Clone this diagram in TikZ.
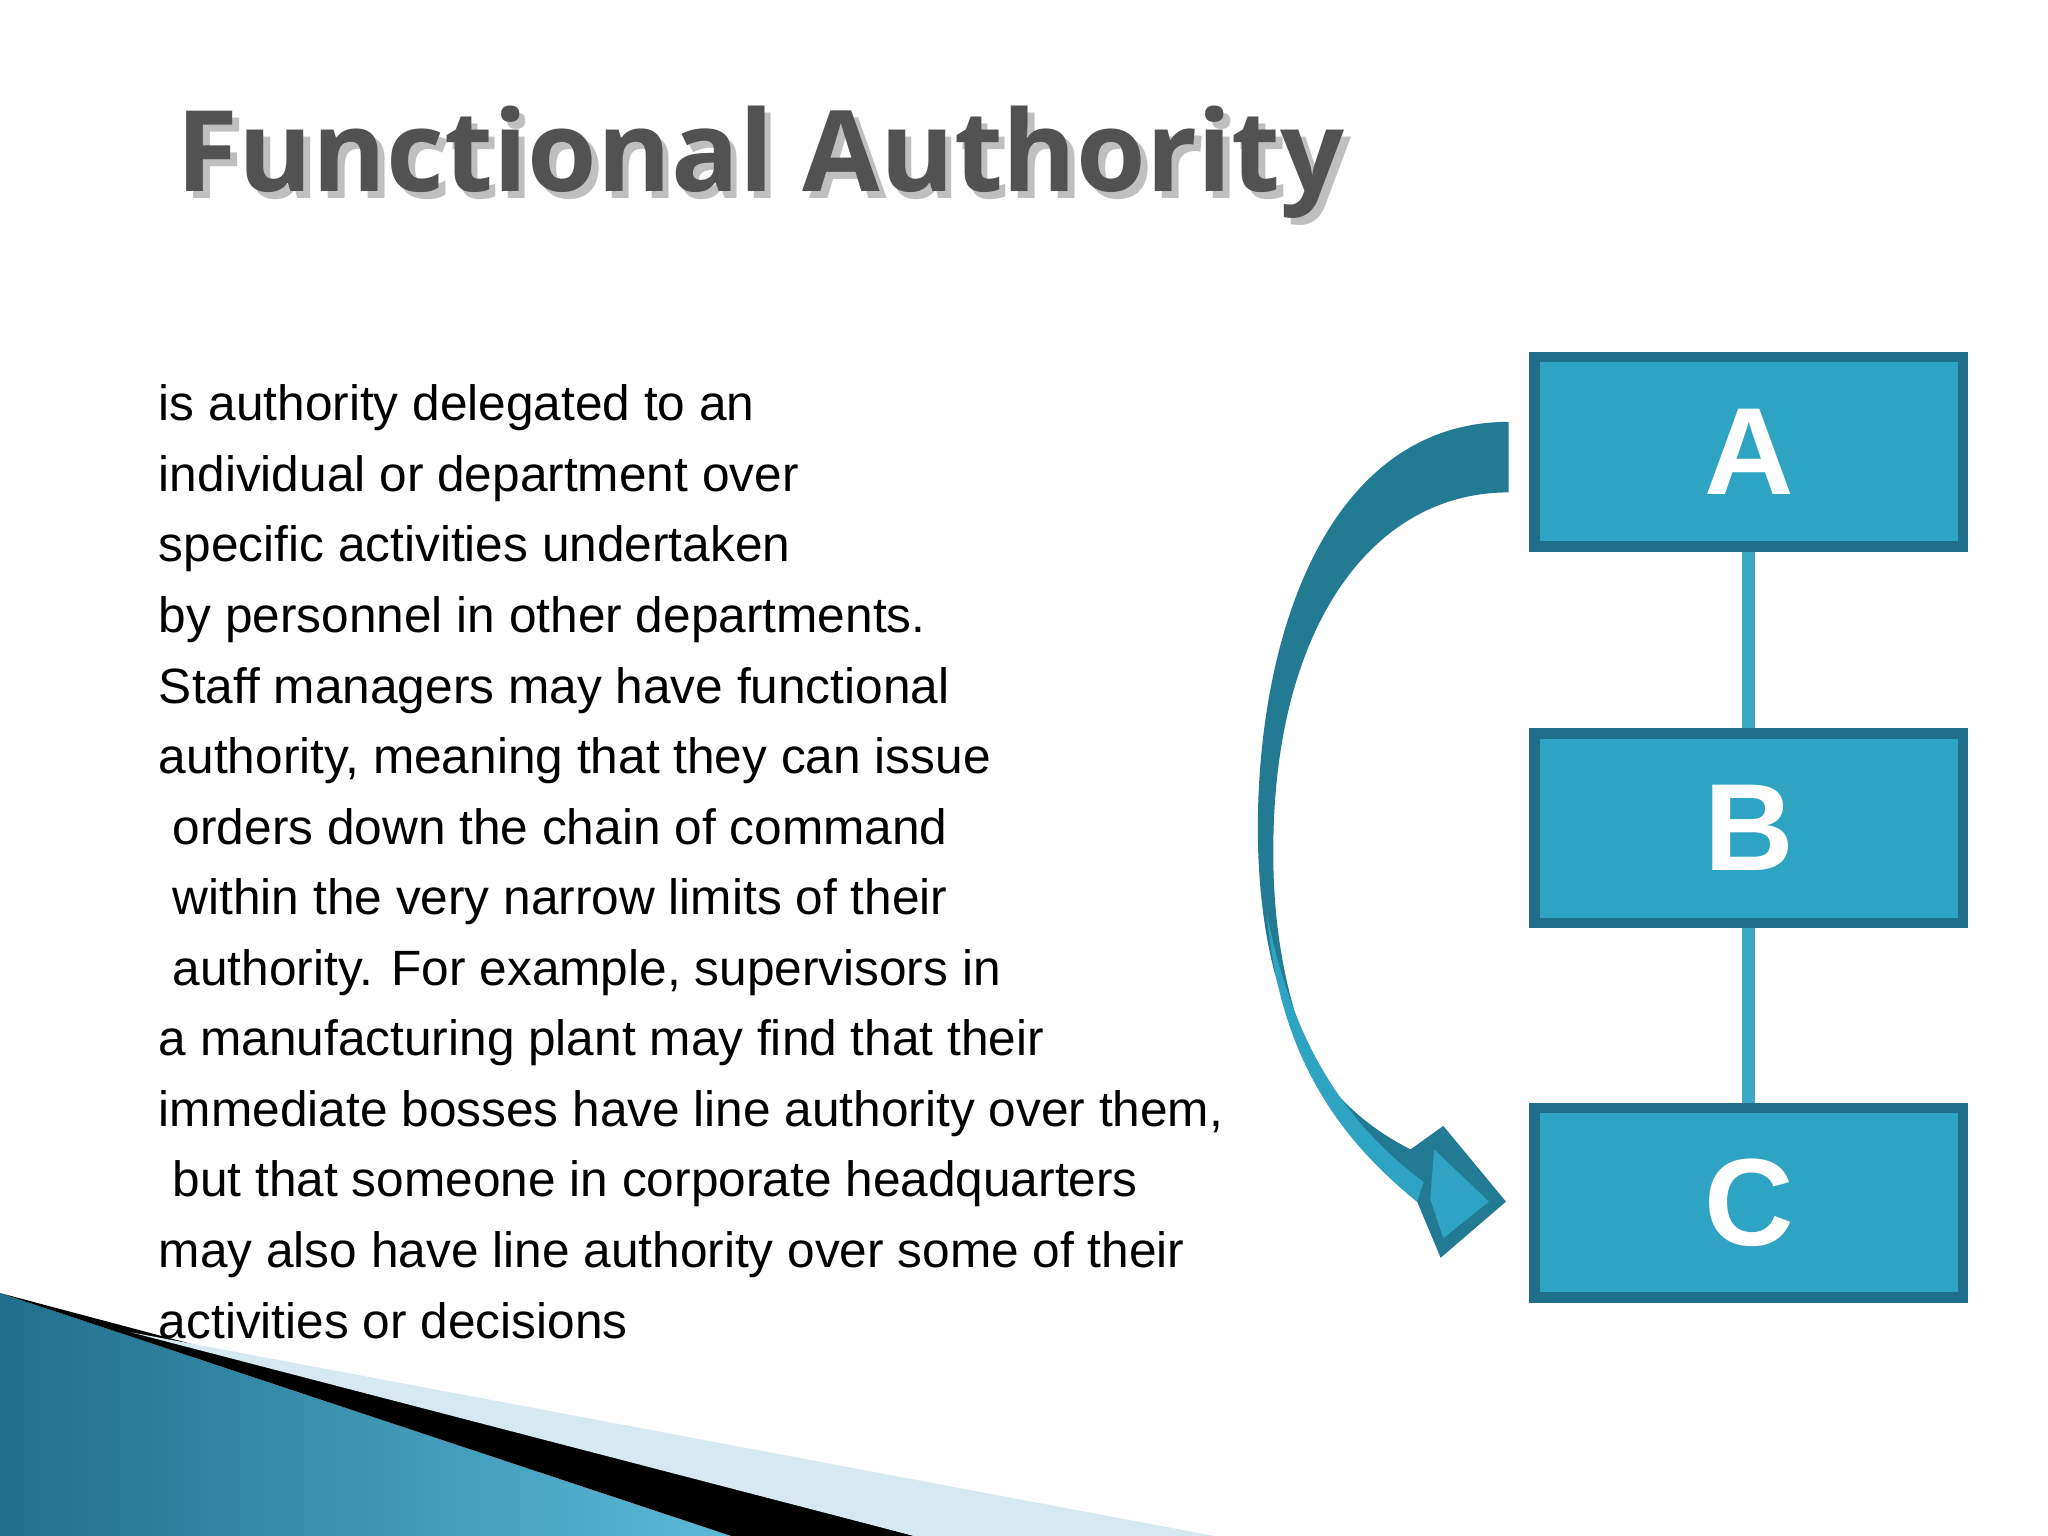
\documentclass[tikz,border=0pt]{standalone}
\usepackage{fontspec}
\setmainfont{Liberation Sans}
\newfontfamily\titlefont{Open Sans}
\definecolor{boxfill}{HTML}{2EA3C2}
\definecolor{boxline}{HTML}{1F6F8B}
\definecolor{linkc}{HTML}{3AA8C6}
\definecolor{arrowc}{HTML}{237A93}
\definecolor{decolight}{HTML}{5BBAD8}
\definecolor{stripe}{HTML}{D8E8F0}
\begin{document}
\begin{tikzpicture}[x=0.01cm,y=-0.01cm,
  orgbox/.style={draw=boxline,line width=0.08cm,fill=boxfill,minimum width=3.28cm,minimum height=1.45cm,text=white,font=\bfseries\fontsize{27}{30}\selectfont},
  link/.style={draw=linkc,line width=0.1cm},
  titlestyle/.style={anchor=base west,font=\titlefont\bfseries\fontsize{24.5}{30}\selectfont}]
\useasboundingbox (0,0) rectangle (1568,1176);
\fill[white] (0,0) rectangle (1568,1176);
% bottom-left decoration
\shade[left color=boxline,right color=decolight] (0,990) -- (560,1176) -- (0,1176) -- cycle;
\fill[black] (0,990) -- (700,1176) -- (560,1176) -- cycle;
\fill[stripe] (100,1020) -- (930,1176) -- (700,1176) -- cycle;
% title
\node[titlestyle,text=black!25] (titleshadow) at (128,152) {Functional Authority};
\node[titlestyle,text=black!68] (title) at (123,147) {Functional Authority};
% body
\node[anchor=north west,align=left,inner sep=0pt,font=\fontsize{10.8}{15.36}\selectfont] (body) at (121,294) {is authority delegated to an\\
individual or department over\\
specific activities undertaken\\
by personnel in other departments.\\
Staff managers may have functional\\
authority, meaning that they can issue\\
\hspace*{3pt}orders down the chain of command\\
\hspace*{3pt}within the very narrow limits of their\\
\hspace*{3pt}authority. For example, supervisors in\\
a manufacturing plant may find that their\\
immediate bosses have line authority over them,\\
\hspace*{3pt}but that someone in corporate headquarters\\
may also have line authority over some of their\\
activities or decisions};
% boxes
\node[orgbox] (A) at (1339,346) {A};
\node[orgbox] (B) at (1339,634) {B};
\node[orgbox] (C) at (1339,921) {C};
\draw[link] (A.south) -- (B.north);
\draw[link] (B.south) -- (C.north);
% curved arrow
\coordinate (s1) at (1155,323);
\coordinate (s2) at (1155,377);
\coordinate (tip) at (1153,920);
\fill[arrowc] (s1) .. controls (1020,323) and (962,480) .. (963,640)
  .. controls (965,760) and (1000,840) .. (1080,880)
  -- (1105,862) -- (tip) -- (1103,963) -- (1085,920)
  .. controls (1010,860) and (972,760) .. (975,640)
  .. controls (978,480) and (1050,377) .. (s2) -- cycle;
\fill[boxfill] (1085,920) .. controls (1010,860) and (978,790) .. (970,700)
  .. controls (990,800) and (1030,860) .. (1090,905) -- cycle;
\fill[boxfill] (1098,880) -- (1140,920) -- (1105,948) -- (1095,918) -- cycle;
\end{tikzpicture}
\end{document}
